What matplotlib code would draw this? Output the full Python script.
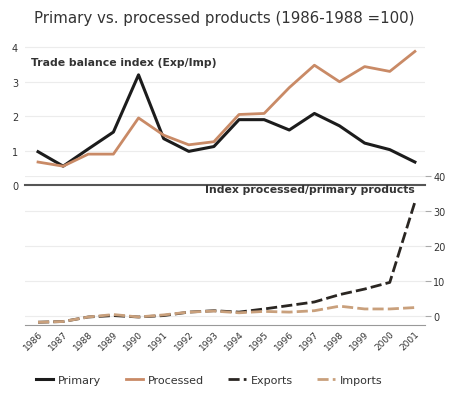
import numpy as np
import matplotlib.pyplot as plt

years = list(range(1986, 2002))
year_labels = [str(y) for y in years]

# trade balance index (Exp/Imp)
primary = [0.97, 0.55, 1.05, 1.54, 3.2, 1.35, 0.98, 1.12, 1.9, 1.9, 1.6, 2.08, 1.72, 1.22, 1.03, 0.67]
processed = [0.67, 0.55, 0.9, 0.9, 1.95, 1.45, 1.17, 1.26, 2.05, 2.08, 2.83, 3.48, 3.0, 3.44, 3.3, 3.88]

# index processed/primary products
exports = [-1.9, -1.7, -0.4, 0.0, -0.4, 0.0, 1.0, 1.4, 1.0, 1.9, 2.9, 3.9, 6.0, 7.6, 9.5, 32.5]
imports = [-1.9, -1.7, -0.4, 0.3, -0.4, 0.2, 1.0, 1.3, 0.8, 1.2, 1.0, 1.4, 2.7, 1.9, 1.9, 2.3]

c_prim = "#1c1c1c"
c_proc = "#c98a66"
c_exp = "#2a2622"
c_imp = "#c9a07c"
c_txt = "#333333"

fig = plt.figure(figsize=(4.54, 4.02), dpi=100)

fig.text(0.495, 0.955, "Primary vs. processed products (1986-1988 =100)",
         ha="center", va="center", fontsize=10.8, color=c_txt)

# top panel
ax1 = fig.add_axes([0.055, 0.537, 0.881, 0.36])
ax1.plot(years, primary, color=c_prim, lw=2.2, label="Primary")
ax1.plot(years, processed, color=c_proc, lw=2.0, label="Processed")
ax1.set_xlim(1985.48, 2001.4)
ax1.set_ylim(0, 4.2)
ax1.set_yticks([0, 1, 2, 3, 4])
ax1.grid(axis="y", color="#ececec", lw=0.8)
ax1.set_axisbelow(True)
ax1.tick_params(axis="y", length=0, labelsize=7, colors=c_txt, pad=5)
ax1.tick_params(axis="x", length=0, labelbottom=False)
for s in ["top", "right", "left"]:
    ax1.spines[s].set_visible(False)
ax1.spines["bottom"].set_color("#555555")
ax1.spines["bottom"].set_linewidth(1.5)
ax1.patch.set_alpha(0)
ax1.text(0.015, 0.83, "Trade balance index (Exp/Imp)", transform=ax1.transAxes,
         fontsize=7.8, fontweight="bold", color=c_txt)

# bottom panel
ax2 = fig.add_axes([0.055, 0.189, 0.881, 0.371])
ax2.plot(years, exports, color=c_exp, lw=2.0, ls=(0, (4, 1.5)), label="Exports")
ax2.plot(years, imports, color=c_imp, lw=2.0, ls=(0, (4, 1.5)), label="Imports")
ax2.set_xlim(1985.48, 2001.4)
ax2.set_ylim(-2.7, 40)
ax2.set_yticks([0, 10, 20, 30, 40])
ax2.yaxis.tick_right()
ax2.grid(axis="y", color="#ececec", lw=0.8)
ax2.set_axisbelow(True)
ax2.tick_params(axis="y", length=4, color="#aaaaaa", labelsize=7, colors=c_txt, pad=2)
ax2.set_xticks(years)
ax2.set_xticklabels(year_labels, rotation=45, ha="right", rotation_mode="anchor",
                    fontsize=6.5, color=c_txt)
ax2.tick_params(axis="x", length=0, pad=3)
for s in ["top", "right", "left"]:
    ax2.spines[s].set_visible(False)
ax2.spines["bottom"].set_color("#999999")
ax2.patch.set_alpha(0)
ax2.text(0.975, 0.89, "Index processed/primary products", transform=ax2.transAxes,
         ha="right", fontsize=7.8, fontweight="bold", color=c_txt)

h1, l1 = ax1.get_legend_handles_labels()
h2, l2 = ax2.get_legend_handles_labels()
fig.legend(h1 + h2, l1 + l2, loc="center", bbox_to_anchor=(0.46, 0.052), ncol=4,
           frameon=False, fontsize=8, handlelength=1.6, columnspacing=2.2,
           handletextpad=0.4, labelcolor=c_txt)

fig.savefig("out.png", dpi=100, facecolor="white")
